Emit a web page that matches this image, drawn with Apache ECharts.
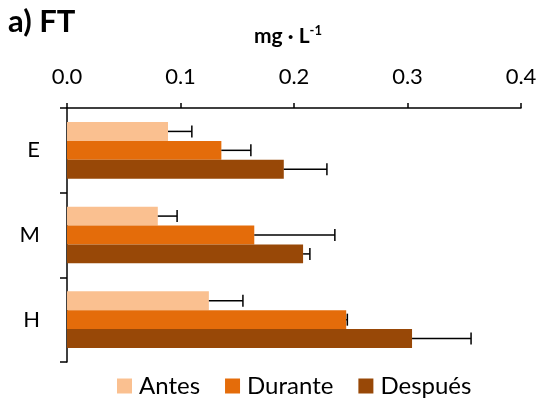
<!DOCTYPE html>
<html>
<head>
<meta charset="utf-8">
<script src="https://cdn.jsdelivr.net/npm/echarts@6/dist/echarts.min.js"></script>
<style>
  html, body { margin: 0; padding: 0; background: #fff; }
  #chart { width: 542px; height: 402px; }
</style>
</head>
<body>
<div id="chart"></div>
<script>
// Total phosphorus (FT) by zone, before / during / after
const categories = ['E', 'M', 'H'];
const seriesNames = ['Antes', 'Durante', 'Después'];
const antes = [0.089, 0.080, 0.125];
const durante = [0.136, 0.165, 0.246];
const despues = [0.191, 0.208, 0.304];
// upper error (standard deviation)
const antesErr = [0.021, 0.017, 0.030];
const duranteErr = [0.026, 0.071, 0.001];
const despuesErr = [0.038, 0.006, 0.052];
const xTicks = [0, 0.1, 0.2, 0.3, 0.4];

const colors = ['#FAC090', '#E46C0A', '#984807'];
const values = [antes, durante, despues];
const errors = [antesErr, duranteErr, despuesErr];
const GROUP = 0.67; // share of each category band filled by bars

const font = 'Lato, "Open Sans", sans-serif';

function errorSeries(idx) {
  const data = categories.map((c, i) => [values[idx][i], i, values[idx][i] + errors[idx][i]]);
  return {
    type: 'custom',
    name: seriesNames[idx] + '-err',
    data: data,
    z: 5,
    silent: true,
    renderItem: function (params, api) {
      const v = api.value(0), ci = api.value(1), hi = api.value(2);
      const center = api.coord([v, ci]);
      const band = api.size([0, 1])[1];
      const bh = band * GROUP / 3;
      const y = center[1] + (idx - 1) * bh;
      const x0 = center[0];
      const x1 = api.coord([hi, ci])[0];
      const cap = 6;
      const style = { stroke: '#000', lineWidth: 1.5 };
      return {
        type: 'group',
        children: [
          { type: 'line', shape: { x1: x0, y1: y, x2: x1, y2: y }, style: style },
          { type: 'line', shape: { x1: x1, y1: y - cap, x2: x1, y2: y + cap }, style: style }
        ]
      };
    }
  };
}

const chart = echarts.init(document.getElementById('chart'));
chart.setOption({
  animation: false,
  color: colors,
  graphic: [
    { type: 'text', left: 8, top: 6, style: { text: 'a) FT', font: 'bold 31px ' + font, fill: '#000' } },
    { type: 'text', left: 254, top: 24, style: { text: '{a|mg · L}{s|-1}', rich: {
      a: { font: 'bold 21px ' + font, fill: '#000', verticalAlign: 'bottom' },
      s: { font: 'bold 13px ' + font, fill: '#000', verticalAlign: 'top', padding: [0, 0, 10, 0] }
    } } }
  ],
  legend: {
    top: 369,
    left: 112,
    itemWidth: 15,
    itemHeight: 15,
    itemGap: 25,
    icon: 'rect',
    data: seriesNames,
    textStyle: { fontFamily: font, fontSize: 24, color: '#000', padding: [0, 0, 0, 2] }
  },
  grid: { left: 67, right: 21, top: 108, bottom: 40 },
  xAxis: {
    type: 'value',
    position: 'top',
    min: 0,
    max: 0.4,
    interval: 0.1,
    splitLine: { show: false },
    axisLine: { show: true, lineStyle: { color: '#000', width: 1.5 } },
    axisTick: { show: true, length: 5, lineStyle: { color: '#000', width: 1.5 } },
    axisLabel: { fontFamily: font, fontSize: 22, color: '#000', margin: 20,
      formatter: v => v.toFixed(1) }
  },
  yAxis: {
    type: 'category',
    data: categories,
    inverse: true,
    axisLine: { lineStyle: { color: '#000', width: 1.5 } },
    axisTick: { show: true, length: 7, lineStyle: { color: '#000', width: 1.5 } },
    axisLabel: { fontFamily: font, fontSize: 22, color: '#000', margin: 27 }
  },
  series: [
    { type: 'bar', name: 'Antes', data: antes, barGap: '0%', barCategoryGap: '33%' },
    { type: 'bar', name: 'Durante', data: durante, barGap: '0%', barCategoryGap: '33%' },
    { type: 'bar', name: 'Después', data: despues, barGap: '0%', barCategoryGap: '33%' },
    errorSeries(0), errorSeries(1), errorSeries(2)
  ]
});
</script>
</body>
</html>
